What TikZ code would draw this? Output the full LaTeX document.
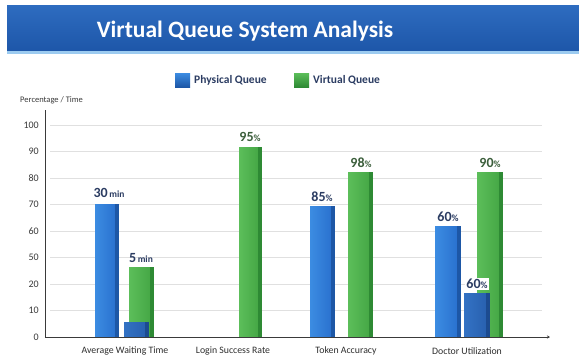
\documentclass[tikz,border=0pt]{standalone}
\usepackage{fontspec}
\setmainfont{Carlito}
\usetikzlibrary{arrows.meta}

\definecolor{titleA}{HTML}{2E6CC0}
\definecolor{titleB}{HTML}{1D56A8}
\definecolor{titleLine}{HTML}{9CCBF0}
\definecolor{navy}{HTML}{2B3C62}
\definecolor{leaf}{HTML}{3B5E3B}
\definecolor{axisgray}{HTML}{3A3A3A}
\definecolor{catgray}{HTML}{2E2E2E}
\definecolor{phyA}{HTML}{3C8CE2}
\definecolor{phyB}{HTML}{2A72CF}
\definecolor{phyC}{HTML}{1D57A6}
\definecolor{virA}{HTML}{5CBE5A}
\definecolor{virB}{HTML}{46A846}
\definecolor{virC}{HTML}{2E8A34}
\definecolor{dkA}{HTML}{3372C4}
\definecolor{dkB}{HTML}{2861B0}
\definecolor{dkC}{HTML}{1C4B90}

% bar: left x, right x, top y, colour stem
\newcommand{\qbar}[4]{%
  \shade[left color=#4A,right color=#4B] (#1,#3) rectangle (#2-4,337);
  \fill[#4C] (#2-4,#3) rectangle (#2,337);}

\begin{document}
\begin{tikzpicture}[x=1pt,y=-1pt,
    ticklabel/.style={anchor=east,inner sep=0pt,text=axisgray,font=\fontsize{10}{10}\selectfont},
    catlabel/.style={inner sep=0pt,text=catgray,font=\fontsize{9.8}{10}\selectfont},
    bval/.style={inner sep=1pt,text=navy,font=\bfseries\fontsize{14}{14}\selectfont},
    gval/.style={bval,text=leaf},
    legtext/.style={anchor=west,inner sep=0pt,text=navy,font=\bfseries\fontsize{11.5}{12}\selectfont}]
  \useasboundingbox (0,0) rectangle (579,360);
  \fill[white] (0,0) rectangle (579,360);

  % title bar
  \shade[top color=titleA,bottom color=titleB] (7,5) rectangle (579,52);
  \fill[titleLine] (7,51) rectangle (579,53.5);
  \node[text=white,font=\bfseries\fontsize{23.5}{24}\selectfont] (title) at (245,31) {Virtual Queue System Analysis};

  % legend
  \shade[top color=phyA,bottom color=phyC] (175,73) rectangle (190,87);
  \node[legtext] (lphy) at (194,80) {Physical Queue};
  \shade[top color=virA,bottom color=virC] (294,73) rectangle (309,87);
  \node[legtext] (lvir) at (313,80) {Virtual Queue};

  % grid and ticks
  \foreach \v [count=\i from 0] in {0,10,20,50,60,70,80,90,100} {
    \node[ticklabel] (t\i) at (39,337-26.5*\i) {\v};
    \ifnum\i>0
      \draw[black!12] (50,337-26.5*\i) -- (542,337-26.5*\i);
    \fi
  }
  \node[anchor=west,inner sep=0pt,text=axisgray,font=\fontsize{8.5}{9}\selectfont] (ytitle) at (20,100.5) {Percentage / Time};

  % bars
  \qbar{95}{119}{204}{phy}
  \qbar{129}{154}{267}{vir}
  \qbar{124}{149}{322}{dk}
  \qbar{239}{262}{147}{vir}
  \qbar{310}{335}{206}{phy}
  \qbar{348}{373}{172}{vir}
  \qbar{435}{461}{226}{phy}
  \qbar{477}{503}{172}{vir}
  \qbar{464}{490}{293}{dk}

  % axes
  \draw[axisgray,line width=0.9pt] (45,110) -- (45,337);
  \draw[axisgray,line width=0.9pt,-{Stealth[length=3pt,width=3pt]}] (45,337) -- (550,337);

  % values
  \node[bval] (v1) at (109,193) {30{\fontsize{9.5}{9}\selectfont\,min}};
  \node[bval] (v2) at (141,258) {5{\fontsize{9.5}{9}\selectfont\,min}};
  \node[gval] (v3) at (250,137) {95{\fontsize{9.5}{9}\selectfont\%}};
  \node[bval] (v4) at (322,197) {85{\fontsize{9.5}{9}\selectfont\%}};
  \node[gval] (v5) at (361,163) {98{\fontsize{9.5}{9}\selectfont\%}};
  \node[bval] (v6) at (448,217) {60{\fontsize{9.5}{9}\selectfont\%}};
  \node[gval] (v7) at (490,163) {90{\fontsize{9.5}{9}\selectfont\%}};
  \node[bval,fill=white,inner sep=1.5pt] (v8) at (477,284) {60{\fontsize{9.5}{9}\selectfont\%}};

  % categories
  \node[catlabel] (c1) at (125,351) {Average Waiting Time};
  \node[catlabel] (c2) at (233,351) {Login Success Rate};
  \node[catlabel] (c3) at (346,351) {Token Accuracy};
  \node[catlabel] (c4) at (467,351) {Doctor Utilization};
\end{tikzpicture}
\end{document}
